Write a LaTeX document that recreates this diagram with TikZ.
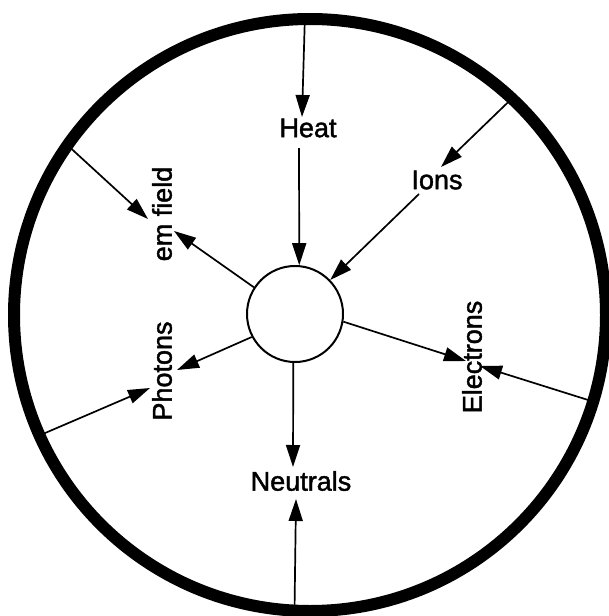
\documentclass[tikz,border=0pt]{standalone}
\usepackage{fontspec}
\setmainfont{Liberation Sans}
\newfontfamily\lblfont{Liberation Sans}[FakeBold=1.6]
\usetikzlibrary{arrows.meta}
\begin{document}
\begin{tikzpicture}[x=1pt,y=-1pt,
  lbl/.style={inner sep=0pt, font=\lblfont\fontsize{27}{30}\selectfont},
  arr/.style={line width=1.7pt, -{Triangle[length=22pt,width=14pt]}},
]
\useasboundingbox (0,0) rectangle (609,616);
\clip (0,0) rectangle (609,616);
% outer wall and central body
\node[circle, draw, line width=12pt, minimum size=592pt, inner sep=0pt, outer sep=0pt] (chamber) at (310,315) {};
\node[circle, draw, line width=2pt, minimum size=96pt, inner sep=0pt] (core) at (295,314) {};
% labels
\node[lbl] (heat) at (308,128) {Heat};
\node[lbl] (ions) at (437,180) {Ions};
\node[lbl, rotate=90] (em) at (162,214) {em field};
\node[lbl, rotate=90] (photons) at (162,371) {Photons};
\node[lbl, rotate=90] (electrons) at (472,357) {Electrons};
\node[lbl] (neutrals) at (301,481) {Neutrals};
% Heat
\draw[arr] (chamber.91.5) -- ([shift={(-6,-11)}]heat.center);
\draw[arr] ([shift={(-9,20)}]heat.center) -- (core.85);
% Ions
\draw[arr] (chamber.47.2) -- ([shift={(4,-13)}]ions.center);
\draw[arr] ([shift={(-18,14)}]ions.center) -- (core.44);
% em field
\draw[arr] (chamber.145.9) -- ([shift={(-14,5)}]em.center);
\draw[arr] (core.147) -- ([shift={(12,17)}]em.center);
% Photons
\draw[arr] (core.208) -- ([shift={(15,-1)}]photons.center);
\draw[arr] (chamber.204.3) -- ([shift={(-12,17)}]photons.center);
% Electrons
\draw[arr] (core.351) -- ([shift={(-6,4)}]electrons.center);
\draw[arr] (chamber.-17) -- ([shift={(8,9)}]electrons.center);
% Neutrals
\draw[arr] (core.268) -- ([shift={(-8,-14)}]neutrals.center);
\draw[arr] (chamber.267.3) -- ([shift={(-5,18)}]neutrals.center);
\end{tikzpicture}
\end{document}
